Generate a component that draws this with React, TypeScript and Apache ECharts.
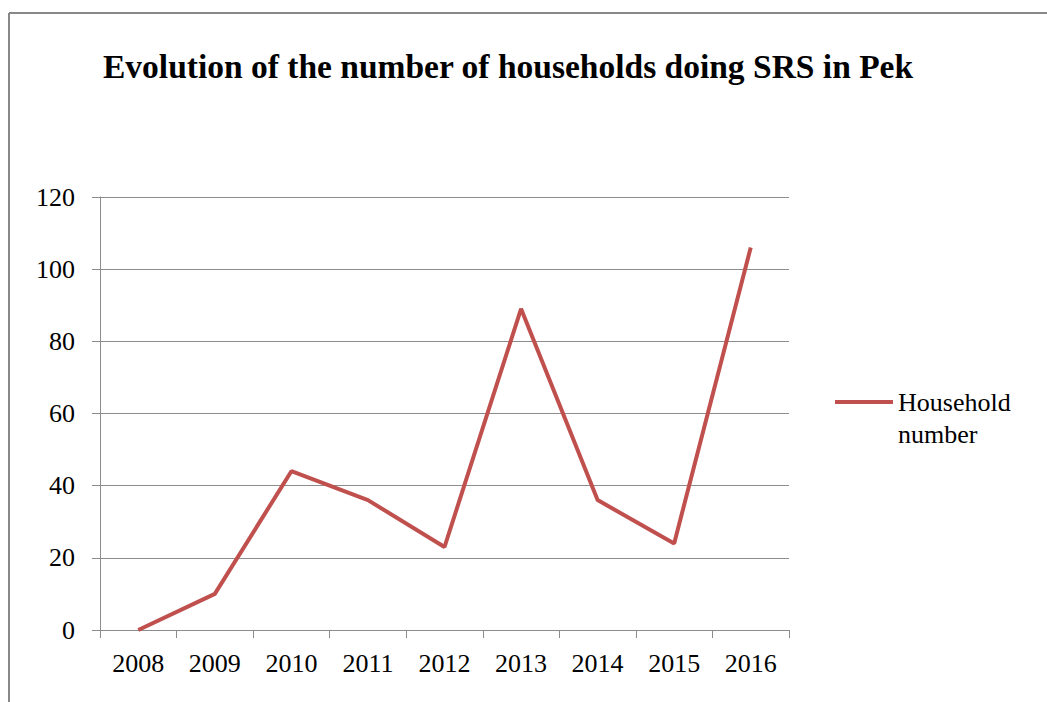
import React, { useEffect, useRef } from "react";
import * as echarts from "echarts";

const categories = ["2008", "2009", "2010", "2011", "2012", "2013", "2014", "2015", "2016"];
const householdValues = [0, 10, 44, 36, 23, 89, 36, 24, 106];
const seriesName = "Household number";
const titleText = "Evolution of the number of households doing SRS in Pek";

const FONT = "'Liberation Serif', 'Times New Roman', serif";

export default function App() {
  const ref = useRef<HTMLDivElement>(null);
  useEffect(() => {
    if (!ref.current) return;
    const chart = echarts.init(ref.current, undefined, { renderer: "svg" });
    chart.setOption({
      animation: false,
      backgroundColor: "#ffffff",
      title: {
        text: titleText,
        left: 98,
        top: 44,
        textStyle: { fontFamily: FONT, fontSize: 33.5, fontWeight: "bold", color: "#000" },
      },
      grid: { left: 100, right: 258, top: 197, bottom: 72, containLabel: false },
      legend: {
        left: 835,
        top: 354,
        padding: 0,
        itemWidth: 58,
        itemHeight: 4,
        itemGap: 5,
        icon: "rect",
        formatter: () => "\nHousehold\nnumber",
        textStyle: {
          fontFamily: FONT,
          fontSize: 26,
          color: "#000",
          lineHeight: 32,
        },
        data: [seriesName],
      },
      xAxis: {
        type: "category",
        data: categories,
        boundaryGap: true,
        axisLine: { lineStyle: { color: "#8c8c8c", width: 1 } },
        axisTick: { show: true, length: 8, inside: false, lineStyle: { color: "#8c8c8c" } },
        axisLabel: { fontFamily: FONT, fontSize: 26, color: "#000", margin: 20 },
        splitLine: { show: false },
      },
      yAxis: {
        type: "value",
        min: 0,
        max: 120,
        interval: 20,
        axisLine: { show: true, lineStyle: { color: "#8c8c8c", width: 1 } },
        axisTick: { show: true, length: 8, inside: false, lineStyle: { color: "#8c8c8c" } },
        axisLabel: { fontFamily: FONT, fontSize: 26, color: "#000", margin: 25 },
        splitLine: { show: true, lineStyle: { color: "#8c8c8c", width: 1 } },
      },
      series: [
        {
          name: seriesName,
          type: "line",
          data: householdValues,
          symbol: "none",
          lineStyle: { color: "#C0504D", width: 4 },
          itemStyle: { color: "#C0504D" },
        },
      ],
      graphic: [
        { type: "line", shape: { x1: 9, y1: 13, x2: 1047, y2: 13 }, style: { stroke: "#888", lineWidth: 2 } },
        { type: "line", shape: { x1: 9, y1: 13, x2: 9, y2: 702 }, style: { stroke: "#888", lineWidth: 2 } },
      ],
    });
    return () => chart.dispose();
  }, []);
  return <div ref={ref} style={{ position: "fixed", left: 0, top: 0, width: 1047, height: 702 }} />;
}
